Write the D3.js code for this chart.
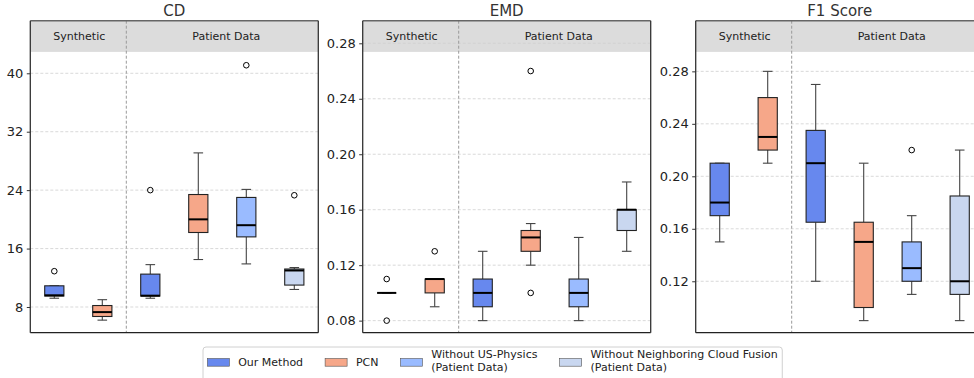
<!DOCTYPE html>
<html>
<head>
<meta charset="utf-8">
<script src="https://cdn.jsdelivr.net/npm/d3@7"></script>
<style>
  body { margin: 0; background: #fff; }
  text { font-family: "DejaVu Sans", sans-serif; }
</style>
</head>
<body>
<div id="chart"></div>
<script>
// data
const groups = ["Synthetic", "Patient Data"];
const methods = ["Our Method", "PCN", "Without US-Physics\n(Patient Data)", "Without Neighboring Cloud Fusion\n(Patient Data)"];
const boxMethod = [0, 1, 0, 1, 2, 3]; // method of each box, left to right

// [whisker low, q1, median, q3, whisker high]
const cdStats = [
  [9.2, 9.5, 9.6, 10.9, 10.9],
  [6.2, 6.7, 7.3, 8.2, 9.0],
  [9.2, 9.5, 9.55, 12.5, 13.8],
  [14.5, 18.2, 20.0, 23.4, 29.1],
  [13.9, 17.6, 19.2, 23.0, 24.1],
  [10.4, 11.0, 13.0, 13.2, 13.4]
];
const cdOutliers = [[12.9], [], [24.0], [], [41.1], [23.3]];
const cdTicks = [8, 16, 24, 32, 40];

const emdStats = [
  [0.10, 0.10, 0.10, 0.10, 0.10],
  [0.09, 0.10, 0.11, 0.11, 0.11],
  [0.08, 0.09, 0.10, 0.11, 0.13],
  [0.12, 0.13, 0.14, 0.145, 0.15],
  [0.08, 0.09, 0.10, 0.11, 0.14],
  [0.13, 0.145, 0.16, 0.16, 0.18]
];
const emdOutliers = [[0.11, 0.08], [0.13], [], [0.10, 0.26], [], []];
const emdTicks = [0.08, 0.12, 0.16, 0.20, 0.24, 0.28];

const f1Stats = [
  [0.15, 0.17, 0.18, 0.21, 0.21],
  [0.21, 0.22, 0.23, 0.26, 0.28],
  [0.12, 0.165, 0.21, 0.235, 0.27],
  [0.09, 0.10, 0.15, 0.165, 0.21],
  [0.11, 0.12, 0.13, 0.15, 0.17],
  [0.09, 0.11, 0.12, 0.185, 0.22]
];
const f1Outliers = [[], [], [], [], [0.22], []];
const f1Ticks = [0.12, 0.16, 0.20, 0.24, 0.28];

const colors = ["#6788ee", "#f6a789", "#9abbff", "#c9d7f0"];

const W = 974, H = 378;
const svg = d3.select("#chart").append("svg")
    .attr("width", W)
    .attr("height", H);

const plotTop = 20.7, plotBottom = 332.7, panelW = 288;

const panels = [
  {title: "CD", left: 30.3, stats: cdStats, outliers: cdOutliers, ticks: cdTicks, domain: [4.48, 47.2], fmt: d3.format("d")},
  {title: "EMD", left: 362.7, stats: emdStats, outliers: emdOutliers, ticks: emdTicks, domain: [0.0713, 0.2963], fmt: d3.format(".2f")},
  {title: "F1 Score", left: 695.7, stats: f1Stats, outliers: f1Outliers, ticks: f1Ticks, domain: [0.0808, 0.3186], fmt: d3.format(".2f")}
];

panels.forEach(drawPanel);

function drawPanel(p) {
  const x = d3.scaleLinear().domain([0.5, 6.5]).range([p.left, p.left + panelW]);
  const y = d3.scaleLinear().domain(p.domain).range([plotBottom, plotTop]);
  const g = svg.append("g");

  // header band
  const headerH = (plotBottom - plotTop) * 0.1;
  g.append("rect")
      .attr("x", p.left).attr("y", plotTop)
      .attr("width", panelW).attr("height", headerH)
      .attr("fill", "#dcdcdc");

  // grid
  g.append("g").selectAll("line")
    .data(p.ticks)
    .join("line")
      .attr("x1", p.left).attr("x2", p.left + panelW)
      .attr("y1", d => y(d)).attr("y2", d => y(d))
      .attr("stroke", "#cfcfcf")
      .attr("stroke-width", 0.8)
      .attr("stroke-dasharray", "3,2");

  // group divider
  g.append("line")
      .attr("x1", x(2.5)).attr("x2", x(2.5))
      .attr("y1", plotTop).attr("y2", plotBottom)
      .attr("stroke", "#999")
      .attr("stroke-width", 1)
      .attr("stroke-dasharray", "3,2");

  g.append("text").attr("x", x(1.5) + 1).attr("y", plotTop + headerH / 2 + 4)
      .attr("text-anchor", "middle").attr("font-size", 11).attr("fill", "#222")
      .text(groups[0]);
  g.append("text").attr("x", x(4.5) + 4).attr("y", plotTop + headerH / 2 + 4)
      .attr("text-anchor", "middle").attr("font-size", 11).attr("fill", "#222")
      .text(groups[1]);

  // boxes
  const boxW = x(0.4) - x(0), capW = x(0.2) - x(0);
  p.stats.forEach((s, i) => {
    const cx = x(i + 1);
    const bg = g.append("g");
    // whiskers
    bg.append("line").attr("x1", cx).attr("x2", cx).attr("y1", y(s[0])).attr("y2", y(s[1]))
        .attr("stroke", "#444").attr("stroke-width", 1.1);
    bg.append("line").attr("x1", cx).attr("x2", cx).attr("y1", y(s[3])).attr("y2", y(s[4]))
        .attr("stroke", "#444").attr("stroke-width", 1.1);
    [s[0], s[4]].forEach(v => {
      bg.append("line").attr("x1", cx - capW / 2).attr("x2", cx + capW / 2)
          .attr("y1", y(v)).attr("y2", y(v))
          .attr("stroke", "#444").attr("stroke-width", 1.1);
    });
    bg.append("rect")
        .attr("x", cx - boxW / 2).attr("y", y(s[3]))
        .attr("width", boxW).attr("height", Math.max(0, y(s[1]) - y(s[3])))
        .attr("fill", colors[boxMethod[i]])
        .attr("stroke", "#222").attr("stroke-width", 1.1);
    bg.append("line").attr("x1", cx - boxW / 2).attr("x2", cx + boxW / 2)
        .attr("y1", y(s[2])).attr("y2", y(s[2]))
        .attr("stroke", "#000").attr("stroke-width", 2);
    bg.selectAll("circle")
      .data(p.outliers[i])
      .join("circle")
        .attr("cx", cx).attr("cy", d => y(d)).attr("r", 2.8)
        .attr("fill", "none").attr("stroke", "#000").attr("stroke-width", 1);
  });

  // frame
  g.append("line").attr("x1", p.left).attr("x2", p.left + panelW).attr("y1", plotTop).attr("y2", plotTop)
      .attr("stroke", "#666").attr("stroke-width", 1.6);
  g.append("line").attr("x1", p.left).attr("x2", p.left + panelW).attr("y1", plotBottom).attr("y2", plotBottom)
      .attr("stroke", "#222").attr("stroke-width", 1.3);
  [p.left, p.left + panelW].forEach(xx => {
    g.append("line").attr("x1", xx).attr("x2", xx).attr("y1", plotTop).attr("y2", plotBottom)
        .attr("stroke", "#333").attr("stroke-width", 1.3);
  });

  // y axis
  const axis = g.append("g")
      .attr("transform", `translate(${p.left},0)`)
      .call(d3.axisLeft(y).tickValues(p.ticks).tickFormat(p.fmt).tickSize(3.5).tickPadding(3.5));
  axis.select(".domain").remove();
  axis.selectAll("line").attr("stroke", "#333");
  axis.selectAll("text").attr("font-size", 13).attr("fill", "#222")
      .attr("font-family", "DejaVu Sans");

  // title
  svg.append("text")
      .attr("x", p.left + panelW / 2).attr("y", 15.5)
      .attr("text-anchor", "middle").attr("font-size", 15).attr("font-weight", "normal")
      .attr("fill", "#333")
      .text(p.title);
}

// legend, laid out like matplotlib (font size f)
const f = 11;
const legLeft = 203, legTop = 347;
const legend = svg.append("g");
const frame = legend.append("rect")
    .attr("x", legLeft).attr("y", legTop).attr("height", 40)
    .attr("rx", 3)
    .attr("fill", "#fff").attr("stroke", "#d0d0d0");
let cur = legLeft + 0.4 * f;
methods.forEach((m, i) => {
  legend.append("rect")
      .attr("x", cur).attr("y", 358.5).attr("width", 2 * f).attr("height", 0.7 * f)
      .attr("fill", colors[i]).attr("stroke", "#555").attr("stroke-width", 0.6);
  const tx = cur + 2.8 * f;
  const lines = m.split("\n");
  const t = legend.append("text")
      .attr("x", tx).attr("font-size", f).attr("fill", "#222");
  lines.forEach((l, j) => {
    t.append("tspan")
        .attr("x", tx)
        .attr("y", lines.length === 1 ? 366 : 358 + j * 12.6)
        .text(l);
  });
  cur = tx + t.node().getBBox().width + 2 * f;
});
frame.attr("width", cur - 2 * f + 0.4 * f - legLeft);
</script>
</body>
</html>
